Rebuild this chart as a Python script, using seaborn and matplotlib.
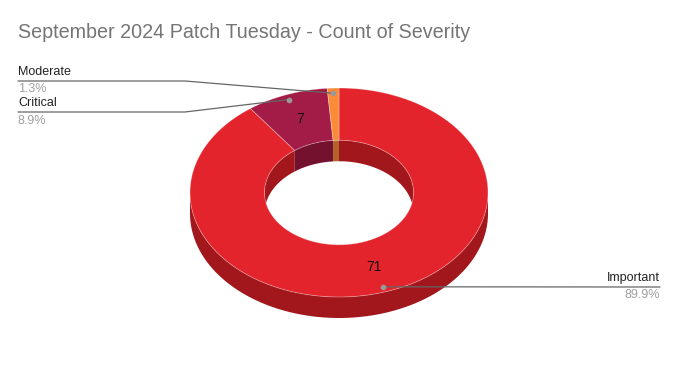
import numpy as np
import pandas as pd
import seaborn as sns
import matplotlib
matplotlib.use('Agg')
import matplotlib.pyplot as plt

# data
severity = ['Important', 'Critical', 'Moderate']
counts = [71, 7, 1]
top_colors = ['#e4242c', '#a31b47', '#fb8b37']
side_colors = ['#a1171c', '#74112f', '#b3622a']

sns.set_theme(style='white')
plt.rcParams['font.family'] = ['Liberation Sans', 'DejaVu Sans']

fig = plt.figure(figsize=(6.79, 3.71), dpi=100)
ax = fig.add_axes([0, 0, 1, 1])
ax.set_xlim(0, 679)
ax.set_ylim(371, 0)
ax.axis('off')

# donut geometry (pixel space)
cx, cy = 339, 192.5
rx, ry = 149, 104.5
r_in = 0.5
depth = 21


def pt(theta, r):
    t = np.radians(theta)
    return cx + rx * r * np.sin(t), cy - ry * r * np.cos(t)


df = pd.DataFrame({'severity': severity, 'count': counts})
df['share'] = df['count'] / df['count'].sum()
df['end'] = df['share'].cumsum() * 360
df['start'] = df['end'] - df['share'] * 360
df['mid'] = (df['start'] + df['end']) / 2


def wall(a0, a1, r, color):
    if a1 <= a0:
        return
    th = np.linspace(a0, a1, 80)
    x, y = pt(th, r)
    ax.fill(np.concatenate([x, x[::-1]]), np.concatenate([y, y[::-1] + depth]),
            color=color, lw=0)


# outer wall (front half)
for _, row in df.iterrows():
    i = severity.index(row['severity'])
    wall(max(row['start'], 90), min(row['end'], 270), 1, side_colors[i])

# inner wall (back half, seen through the hole)
for _, row in df.iterrows():
    i = severity.index(row['severity'])
    wall(max(row['start'], 0), min(row['end'], 90), r_in, side_colors[i])
    wall(max(row['start'], 270), min(row['end'], 360), r_in, side_colors[i])

# top face
for _, row in df.iterrows():
    i = severity.index(row['severity'])
    th = np.linspace(row['start'], row['end'], 200)
    xo, yo = pt(th, 1)
    xi, yi = pt(th[::-1], r_in)
    ax.fill(np.concatenate([xo, xi]), np.concatenate([yo, yi]),
            facecolor=top_colors[i], edgecolor=(1, 1, 1, 0.35), lw=0.6)

# value labels
for _, row in df.iterrows():
    if row['share'] < 0.05:
        continue
    x, y = pt(row['mid'], 0.75)
    ax.text(x, y, str(row['count']), ha='center', va='center',
            fontsize=10, color='#111111')

# leader lines and labels
dots = df.copy()
dots['x'], dots['y'] = pt(dots['mid'], 0.95)
sns.scatterplot(data=dots, x='x', y='y', color='#9a9a9a', s=14,
                edgecolor=None, ax=ax, zorder=5, legend=False)

label_pos = {'Important': (660, 287, 'right'),
             'Critical': (18, 112, 'left'),
             'Moderate': (18, 81, 'left')}
for _, row in dots.iterrows():
    lx, ly, side = label_pos[row['severity']]
    if side == 'right':
        ax.plot([row['x'], lx], [row['y'], ly], color='#666666', lw=0.9)
        ha = 'right'
    else:
        ax.plot([row['x'], 185, lx], [row['y'], ly, ly], color='#666666', lw=0.9)
        ha = 'left'
    ax.text(lx, ly - 3, row['severity'], ha=ha, va='bottom',
            fontsize=9, color='#222222')
    ax.text(lx, ly + 2.5, f"{row['share'] * 100:.1f}%", ha=ha, va='top',
            fontsize=9, color='#a0a0a0')

ax.text(18, 32, 'September 2024 Patch Tuesday - Count of Severity',
        ha='left', va='center', fontsize=14.2, color='#757575')

fig.savefig('out.png', dpi=100)
